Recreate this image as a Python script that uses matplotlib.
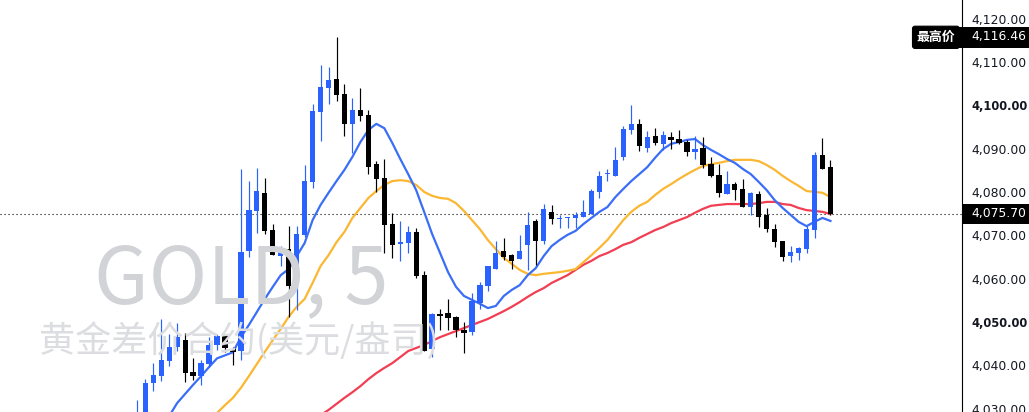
"""plot.py - GOLD 5 minute candles with three moving averages."""

import matplotlib
matplotlib.use("Agg")
import matplotlib.pyplot as plt
from matplotlib.patches import Rectangle
import numpy as np

UP_COLOR = "#2962ff"
DOWN_COLOR = "#000000"

opens = [
    4024.0, 4029.0, 4036.7, 4038.3, 4041.8, 4045.0, 4046.6, 4039.3, 4038.3, 4041.1, 4045.5,
    4047.6, 4044.6, 4044.1, 4067.2, 4076.4, 4080.6, 4072.0, 4066.0, 4067.6, 4059.6, 4070.9,
    4083.1, 4099.2, 4104.8, 4106.8, 4103.4, 4096.5, 4099.7, 4098.5, 4087.2, 4084.0, 4073.4,
    4068.8, 4069.0, 4071.6, 4061.6, 4044.6, 4052.6, 4052.9, 4052.0, 4049.0, 4048.5, 4055.2,
    4059.1, 4063.0, 4067.2, 4066.2, 4065.3, 4068.6, 4074.1, 4069.5, 4076.2, 4074.6, 4074.8,
    4074.8, 4075.0, 4075.7, 4080.8, 4084.9, 4084.5, 4088.9, 4095.1, 4096.5, 4090.9, 4093.7,
    4091.9, 4093.5, 4093.0, 4092.3, 4090.0, 4090.9, 4087.2, 4084.7, 4080.3, 4082.6, 4081.5,
    4077.3, 4080.3, 4075.5, 4072.2, 4069.5, 4066.0, 4066.7, 4067.6, 4072.0, 4089.3, 4086.5,
]
highs = [
    4032.8, 4037.6, 4041.3, 4051.5, 4048.0, 4050.6, 4048.3, 4042.5, 4042.0, 4047.3, 4048.0,
    4047.6, 4045.0, 4086.1, 4083.3, 4086.3, 4084.0, 4073.4, 4068.3, 4073.0, 4073.0, 4087.0,
    4101.1, 4110.1, 4109.6, 4116.5, 4105.7, 4102.5, 4104.8, 4099.7, 4088.0, 4088.4, 4075.9,
    4074.1, 4073.0, 4072.5, 4062.6, 4052.9, 4053.8, 4056.1, 4052.2, 4050.8, 4057.5, 4060.0,
    4063.7, 4069.5, 4070.2, 4066.5, 4070.9, 4076.2, 4074.6, 4078.0, 4077.8, 4075.5, 4075.0,
    4076.2, 4078.9, 4081.5, 4085.6, 4086.1, 4091.2, 4096.0, 4100.8, 4097.6, 4094.8, 4095.5,
    4094.8, 4094.6, 4095.1, 4092.8, 4093.7, 4093.5, 4088.9, 4087.2, 4085.6, 4083.1, 4083.8,
    4080.8, 4081.0, 4077.1, 4073.4, 4069.5, 4068.3, 4068.1, 4072.9, 4090.0, 4093.2, 4088.2,
]
lows = [
    4022.0, 4027.0, 4034.9, 4037.2, 4040.6, 4044.1, 4037.0, 4037.4, 4036.3, 4040.4, 4044.3,
    4043.9, 4040.9, 4042.0, 4065.8, 4071.3, 4071.1, 4066.2, 4063.7, 4052.0, 4053.6, 4070.4,
    4081.7, 4092.5, 4101.1, 4101.8, 4093.7, 4089.8, 4097.2, 4084.9, 4080.8, 4066.7, 4065.6,
    4064.9, 4066.7, 4061.0, 4044.1, 4042.7, 4049.0, 4049.0, 4047.3, 4043.6, 4047.8, 4053.8,
    4058.0, 4063.0, 4065.1, 4063.0, 4065.3, 4062.8, 4064.0, 4068.8, 4073.4, 4072.5, 4072.5,
    4072.5, 4075.0, 4075.7, 4079.4, 4083.3, 4084.5, 4088.2, 4094.2, 4090.2, 4090.0, 4091.6,
    4090.5, 4090.7, 4091.9, 4089.1, 4088.4, 4086.3, 4084.2, 4079.6, 4080.3, 4078.9, 4077.3,
    4075.5, 4072.7, 4071.6, 4068.1, 4064.9, 4064.6, 4065.1, 4066.7, 4070.2, 4086.1, 4075.5,
]
closes = [
    4029.0, 4036.7, 4038.6, 4042.0, 4045.0, 4047.3, 4039.0, 4038.3, 4041.3, 4045.5, 4047.6,
    4044.8, 4043.9, 4066.9, 4076.6, 4081.0, 4071.8, 4066.2, 4067.6, 4059.1, 4071.1, 4083.3,
    4099.5, 4105.0, 4106.6, 4103.2, 4096.5, 4099.7, 4098.3, 4086.5, 4083.8, 4073.2, 4068.6,
    4069.2, 4071.6, 4061.4, 4044.1, 4052.6, 4052.2, 4051.7, 4049.0, 4048.3, 4055.6, 4059.3,
    4063.7, 4066.7, 4065.8, 4064.9, 4067.2, 4073.2, 4069.5, 4076.9, 4074.6, 4074.8, 4075.0,
    4075.5, 4076.2, 4081.0, 4084.5, 4085.2, 4088.2, 4095.3, 4096.5, 4091.4, 4093.5, 4092.1,
    4093.9, 4092.8, 4092.1, 4090.0, 4090.7, 4087.0, 4084.5, 4080.6, 4082.6, 4081.2, 4077.3,
    4080.6, 4075.0, 4072.2, 4069.2, 4065.8, 4066.9, 4067.9, 4072.2, 4089.3, 4086.1, 4075.7,
]

# moving averages, only the part that reaches into the picture
ma_fast = [
    4029.1, 4032.1, 4034.2, 4036.3, 4038.3, 4040.4, 4042.4, 4043.1, 4043.8, 4047.3, 4050.1,
    4053.1, 4056.1, 4058.9, 4061.6, 4063.0, 4066.0, 4069.0, 4074.3, 4077.8, 4080.6, 4083.3,
    4085.9, 4088.9, 4092.3, 4095.1, 4096.5, 4095.5, 4092.1, 4088.4, 4084.9, 4081.2, 4076.2,
    4071.1, 4066.7, 4062.3, 4058.9, 4056.8, 4055.9, 4055.0, 4054.0, 4054.5, 4056.8, 4058.2,
    4059.3, 4061.6, 4063.2, 4066.0, 4068.3, 4069.7, 4070.9, 4071.8, 4073.4, 4074.8, 4076.2,
    4077.3, 4079.6, 4081.5, 4083.3, 4084.9, 4086.5, 4088.7, 4090.7, 4091.9, 4092.3, 4092.8,
    4093.0, 4091.6, 4090.5, 4089.5, 4088.4, 4087.5, 4086.1, 4084.9, 4083.1, 4081.2, 4078.9,
    4077.1, 4075.5, 4073.9, 4072.9, 4073.9, 4074.8, 4074.1,
]
ma_mid = [
    4029.8, 4031.6, 4033.3, 4035.6, 4038.3, 4041.1, 4043.9, 4046.6, 4049.2, 4052.0, 4054.3,
    4056.1, 4059.8, 4063.7, 4066.2, 4069.2, 4071.6, 4074.8, 4077.1, 4079.4, 4081.0, 4082.4,
    4083.3, 4083.5, 4083.3, 4082.4, 4080.8, 4079.9, 4079.4, 4079.2, 4078.2, 4076.4, 4074.3,
    4072.2, 4069.7, 4067.6, 4065.6, 4064.2, 4062.8, 4061.9, 4061.6, 4061.9, 4062.1, 4062.3,
    4062.6, 4063.0, 4064.6, 4066.2, 4067.9, 4069.7, 4072.0, 4074.3, 4076.2, 4077.6, 4078.5,
    4080.1, 4081.5, 4082.6, 4083.8, 4084.9, 4085.9, 4086.8, 4087.2, 4087.5, 4087.9, 4088.2,
    4088.2, 4088.2, 4087.9, 4087.0, 4085.9, 4084.5, 4083.3, 4082.2, 4081.0, 4080.8, 4080.6,
    4079.6,
]
ma_slow = [
    4029.3, 4030.5, 4031.9, 4033.3, 4034.6, 4036.0, 4037.6, 4039.0, 4040.2, 4041.3, 4042.7,
    4044.1, 4044.8, 4045.5, 4046.4, 4047.3, 4048.0, 4048.7, 4049.4, 4050.1, 4050.8, 4051.5,
    4052.4, 4053.3, 4054.3, 4055.4, 4056.6, 4057.7, 4058.6, 4059.8, 4060.7, 4061.6, 4062.8,
    4064.0, 4064.9, 4066.0, 4066.7, 4067.6, 4068.6, 4069.2, 4070.2, 4071.1, 4072.0, 4072.7,
    4073.6, 4074.3, 4075.0, 4076.0, 4076.9, 4077.6, 4077.8, 4078.0, 4078.0, 4078.0, 4078.0,
    4078.2, 4078.5, 4078.5, 4078.0, 4077.8, 4077.1, 4076.6, 4076.4, 4076.2, 4075.7,
]

price_ticks = [4030, 4040, 4050, 4060, 4070, 4080, 4090, 4100, 4110, 4120]
bold_ticks = [4050, 4100]
last_price = 4075.70
high_price = 4116.46

symbol_text = "GOLD, 5"
name_text = "黄金差价合约(美元/盎司)"
high_text = "最高价"

plt.rcParams["font.family"] = ["DejaVu Sans"]
CJK = ["Noto Sans CJK SC", "DejaVu Sans"]

fig = plt.figure(figsize=(10.29, 4.12), dpi=100, facecolor="white")
ax = fig.add_axes([0, 0, 961.5 / 1029, 1])
ax.set_xlim(-17.24, 103.45)
ax.set_ylim(4030.03, 4125.07)

# watermark sits under everything else
fig.text(94 / 1029, 1 - 303 / 412, symbol_text, fontsize=57, color="#d1d3d7",
         family=CJK, ha="left", va="baseline", zorder=0)
fig.text(39 / 1029, 1 - 352 / 412, name_text, fontsize=26, color="#dcdde0",
         family=CJK, ha="left", va="baseline", zorder=0)
ax.patch.set_alpha(0)

x = np.arange(len(opens))
opens_arr = np.array(opens)
closes_arr = np.array(closes)
colors = [UP_COLOR if c >= o else DOWN_COLOR for o, c in zip(opens, closes)]

# averages go under the candles
for values, color in ((ma_slow, "#f23e52"), (ma_mid, "#fbb732"), (ma_fast, "#3a6ef6")):
    ax.plot(x[-len(values):], values, color=color, linewidth=1.6, zorder=2)

ax.vlines(x, lows, highs, colors=colors, linewidth=0.85, zorder=3)
ax.bar(x, np.abs(closes_arr - opens_arr), bottom=np.minimum(opens_arr, closes_arr),
       width=0.66, color=colors, linewidth=0, zorder=3)

ax.axhline(last_price, color="black", linewidth=0.8, linestyle=(0, (1, 2.6)), zorder=1)

# price scale on the right
ax.set_xticks([])
ax.set_yticks([])
for side in ("left", "top", "bottom"):
    ax.spines[side].set_visible(False)
ax.spines["right"].set_color("black")
ax.spines["right"].set_linewidth(0.8)

for price in price_ticks:
    is_bold = price in bold_ticks
    ax.annotate(f"{price:,.2f}", xy=(1, price), xycoords=("axes fraction", "data"),
                xytext=(7, 1.4), textcoords="offset points",
                fontsize=8.3 if is_bold else 8.9, color="#131722",
                fontweight="bold" if is_bold else "normal",
                va="center", ha="left", annotation_clip=False)

# black price boxes
half_box = 2.35
yaxis_tf = ax.get_yaxis_transform()
for price, left in ((last_price, 1.0), (high_price, 0.995)):
    ax.add_patch(Rectangle((left, price - half_box), 1.08 - left, 2 * half_box, transform=yaxis_tf,
                           facecolor="black", edgecolor="none", clip_on=False, zorder=5))
    ax.annotate(f"{price:,.2f}", xy=(1, price), xycoords=("axes fraction", "data"),
                xytext=(7, 0.5), textcoords="offset points", fontsize=8.9, color="white",
                va="center", ha="left", annotation_clip=False, zorder=6)

ax.annotate(high_text, xy=(1, high_price), xycoords=("axes fraction", "data"),
            xytext=(-4.5, 0), textcoords="offset points", fontsize=9.3, color="white",
            fontweight="bold", family=CJK, va="center", ha="right", annotation_clip=False,
            zorder=6,
            bbox=dict(boxstyle="round,pad=0.32,rounding_size=0.2", facecolor="black",
                      edgecolor="black", linewidth=0.8))

fig.savefig("out.png", dpi=100, facecolor="white")
